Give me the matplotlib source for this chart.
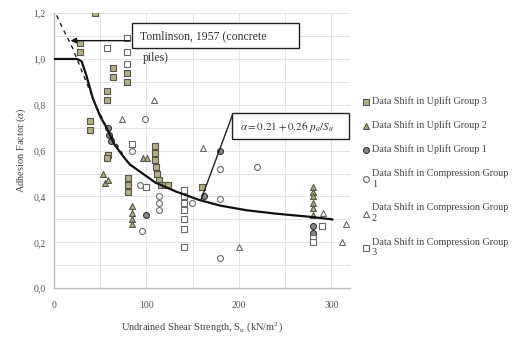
import numpy as np
import matplotlib.pyplot as plt
from matplotlib.patches import Rectangle
from matplotlib.ticker import MultipleLocator, FuncFormatter

plt.rcParams['font.family'] = ['Liberation Serif', 'DejaVu Serif']
plt.rcParams['mathtext.fontset'] = 'stix'

# ---- data ----
up3_su = [44, 28, 28, 79, 79, 64, 64, 57, 57, 39, 39, 109, 109, 58, 109, 110, 112,
          114, 116, 80, 80, 80, 120, 123, 160, 57]
up3_a = [1.20, 1.07, 1.03, 0.94, 0.90, 0.96, 0.92, 0.86, 0.82, 0.73, 0.69, 0.62, 0.59,
         0.58, 0.56, 0.53, 0.50, 0.47, 0.45, 0.48, 0.45, 0.42, 0.45, 0.45, 0.44, 0.57]

up2_su = [280, 280, 280, 280, 280, 280, 53, 55, 58, 96, 101, 84, 84, 84, 84]
up2_a = [0.44, 0.42, 0.40, 0.37, 0.35, 0.32, 0.50, 0.46, 0.47, 0.57, 0.57, 0.36, 0.33,
         0.30, 0.28]

up1_su = [180, 58, 60, 62, 100, 280, 280, 162]
up1_a = [0.60, 0.70, 0.67, 0.64, 0.32, 0.27, 0.24, 0.40]

c1_su = [220, 180, 180, 180, 95, 99, 114, 114, 114, 149, 93, 85]
c1_a = [0.53, 0.52, 0.39, 0.13, 0.25, 0.74, 0.40, 0.37, 0.34, 0.37, 0.45, 0.60]

c2_su = [161, 200, 291, 316, 311, 108, 74]
c2_a = [0.61, 0.18, 0.33, 0.28, 0.20, 0.82, 0.74]

c3_su = [57, 79, 79, 79, 85, 141, 141, 141, 141, 141, 141, 141, 280, 280, 290, 100]
c3_a = [1.05, 1.09, 1.03, 0.98, 0.63, 0.43, 0.40, 0.37, 0.34, 0.30, 0.26, 0.18, 0.22,
        0.20, 0.27, 0.44]

# design curve (solid) and Tomlinson 1957 (dashed)
curve_su = [0, 25, 30, 35, 42, 50, 57, 65, 74, 82, 96, 110, 133, 157, 180, 208, 240, 280, 301]
curve_a = [1.0, 1.0, 0.99, 0.93, 0.83, 0.75, 0.70, 0.63, 0.58, 0.54, 0.50, 0.46, 0.42,
           0.385, 0.36, 0.34, 0.325, 0.31, 0.30]
toml_su = [3, 10, 20, 30, 45, 60, 75]
toml_a = [1.19, 1.13, 1.05, 0.95, 0.80, 0.68, 0.58]

fit_su = [193, 159]
fit_a = [0.755, 0.385]

fig = plt.figure(figsize=(5.13, 3.37), dpi=100)
ax = fig.add_axes([0.105, 0.145, 0.577, 0.816])

olive = '#b3ae86'
edge = '#55554a'
hedge = '#6a6a6a'
ms = 18

ax.scatter(up3_su, up3_a, marker='s', s=ms, facecolor=olive, edgecolor=edge, lw=0.8,
           label='Data Shift in Uplift Group 3', zorder=3)
ax.scatter(up2_su, up2_a, marker='^', s=ms, facecolor=olive, edgecolor=edge, lw=0.8,
           label='Data Shift in Uplift Group 2', zorder=3)
ax.scatter(up1_su, up1_a, marker='o', s=ms, facecolor='#8a8a80', edgecolor='#333333', lw=0.8,
           label='Data Shift in Uplift Group 1', zorder=3)
ax.scatter(c1_su, c1_a, marker='o', s=ms, facecolor='white', edgecolor=hedge, lw=0.8,
           label='Data Shift in Compression Group\n1', zorder=3)
ax.scatter(c2_su, c2_a, marker='^', s=ms, facecolor='white', edgecolor=hedge, lw=0.8,
           label='Data Shift in Compression Group\n2', zorder=3)
ax.scatter(c3_su, c3_a, marker='s', s=ms, facecolor='white', edgecolor=hedge, lw=0.8,
           label='Data Shift in Compression Group\n3', zorder=3)

ax.plot(curve_su, curve_a, color='#111111', lw=1.6, zorder=4)
ax.plot(toml_su, toml_a, color='#222222', lw=1.0, ls=(0, (3, 3)), zorder=4)
ax.plot(fit_su, fit_a, color='#222222', lw=1.0, zorder=4)

# Tomlinson annotation
ax.annotate('', xy=(15, 1.08), xytext=(85, 1.08),
            arrowprops=dict(arrowstyle='-|>', color='#111111', lw=1.0,
                            mutation_scale=8), zorder=5)
ax.add_patch(Rectangle((85, 1.048), 180, 0.109, facecolor='white', edgecolor='#222222',
                       lw=1.0, zorder=5, clip_on=False))
ax.text(93, 1.100, 'Tomlinson, 1957 (concrete', fontsize=8.5, va='center', ha='left',
        color='#333333', zorder=6)
ax.text(96, 1.003, 'piles)', fontsize=8.5, va='center', ha='left', color='#333333', zorder=6)

# formula annotation
ax.add_patch(Rectangle((193, 0.651), 126, 0.113, facecolor='white', edgecolor='#222222',
                       lw=1.0, zorder=5, clip_on=False))
ax.text(201, 0.705, r'$\alpha = 0.21 + 0.26\ p_a/S_u$', fontsize=8, va='center', ha='left',
        color='#333333', zorder=6)

ax.set_xlim(0, 320)
ax.set_ylim(0, 1.2)
ax.xaxis.set_major_locator(MultipleLocator(100))
ax.xaxis.set_minor_locator(MultipleLocator(50))
ax.yaxis.set_major_locator(MultipleLocator(0.2))
ax.yaxis.set_minor_locator(MultipleLocator(0.1))
ax.yaxis.set_major_formatter(FuncFormatter(lambda v, p: ('%.1f' % v).replace('.', ',')))
ax.grid(which='both', color='#e4e4e4', lw=0.7, zorder=0)
ax.set_axisbelow(True)
ax.tick_params(which='both', length=0, labelsize=7, labelcolor='#555555', pad=6)
ax.tick_params(axis='x', pad=9)

for s in ['top', 'right']:
    ax.spines[s].set_visible(False)
for s in ['left', 'bottom']:
    ax.spines[s].set_color('#bbbbbb')
    ax.spines[s].set_linewidth(1.0)

ax.set_xlabel(r'Undrained Shear Strength, S$_\mathregular{u}$ (kN/m$^\mathregular{2}$)',
              fontsize=7.5, color='#444444', labelpad=8)
ax.set_ylabel(r'Adhesion Factor ($\alpha$)', fontsize=7.5, color='#444444', labelpad=4)

fig.legend(loc='upper left', bbox_to_anchor=(0.695, 0.725), frameon=False, fontsize=7.3,
           labelspacing=1.4, handletextpad=0.1, handlelength=1.0, borderaxespad=0,
           labelcolor='#444444')

fig.savefig('out.png', dpi=100)
